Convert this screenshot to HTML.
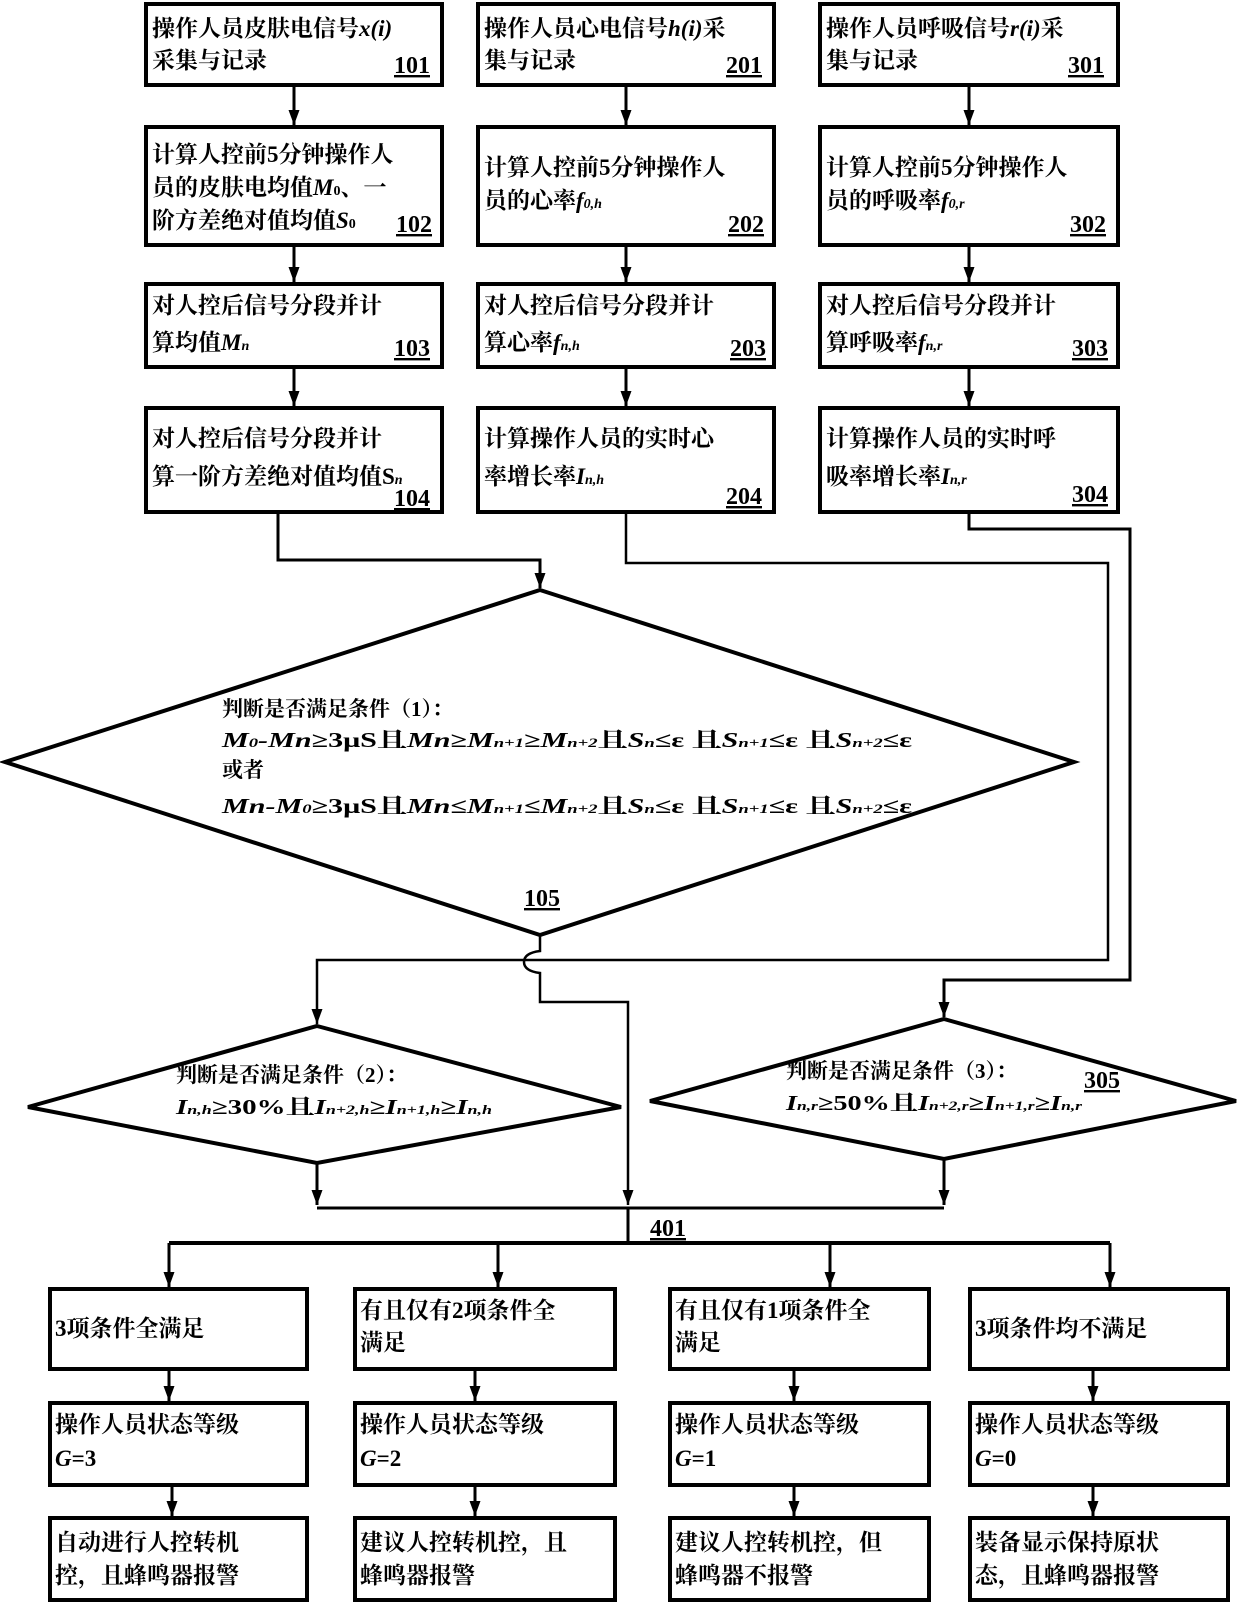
<!DOCTYPE html>
<html><head><meta charset="utf-8"><style>
html,body{margin:0;padding:0;background:#fff;}
svg{display:block;}
text{font-family:"Liberation Serif","Noto Serif CJK SC",serif;font-weight:700;fill:#000;}
.t{font-size:23px;}
.n{font-size:24px;text-decoration:underline;font-family:"Liberation Serif",serif;}
.d{font-size:21px;}
</style></head><body>
<svg width="1240" height="1605" viewBox="0 0 1240 1605" xmlns="http://www.w3.org/2000/svg">
<defs>
<marker id="a" markerWidth="15" markerHeight="11" refX="15" refY="5.5" orient="auto" markerUnits="userSpaceOnUse" viewBox="0 0 15 11">
<path d="M0,0 L15,5.5 L0,11 Z" fill="#000"/></marker>
</defs>
<g fill="none" stroke="#000" stroke-width="4">
<rect x="146" y="4" width="296" height="81"/>
<rect x="146" y="127" width="296" height="118"/>
<rect x="146" y="284" width="296" height="83"/>
<rect x="146" y="408" width="296" height="104"/>
<rect x="478" y="4" width="296" height="81"/>
<rect x="478" y="127" width="296" height="118"/>
<rect x="478" y="284" width="296" height="83"/>
<rect x="478" y="408" width="296" height="104"/>
<rect x="820" y="4" width="298" height="81"/>
<rect x="820" y="127" width="298" height="118"/>
<rect x="820" y="284" width="298" height="83"/>
<rect x="820" y="408" width="298" height="104"/>
<polygon points="540,590 1074,762 540,935 5,762"/>
<polygon points="317,1026 621,1107 317,1163 28,1107"/>
<polygon points="944,1019 1236,1101 944,1159 650,1101"/>
<rect x="50" y="1289" width="257" height="80"/>
<rect x="355" y="1289" width="260" height="80"/>
<rect x="670" y="1289" width="259" height="80"/>
<rect x="970" y="1289" width="258" height="80"/>
<rect x="50" y="1403" width="257" height="82"/>
<rect x="355" y="1403" width="260" height="82"/>
<rect x="670" y="1403" width="259" height="82"/>
<rect x="970" y="1403" width="258" height="82"/>
<rect x="50" y="1518" width="257" height="82"/>
<rect x="355" y="1518" width="260" height="82"/>
<rect x="670" y="1518" width="259" height="82"/>
<rect x="970" y="1518" width="258" height="82"/>
</g>
<g fill="none" stroke="#000" stroke-width="3">
<line x1="294" y1="85" x2="294" y2="125" marker-end="url(#a)"/>
<line x1="294" y1="245" x2="294" y2="282" marker-end="url(#a)"/>
<line x1="294" y1="367" x2="294" y2="406" marker-end="url(#a)"/>
<line x1="626" y1="85" x2="626" y2="125" marker-end="url(#a)"/>
<line x1="626" y1="245" x2="626" y2="282" marker-end="url(#a)"/>
<line x1="626" y1="367" x2="626" y2="406" marker-end="url(#a)"/>
<line x1="969" y1="85" x2="969" y2="125" marker-end="url(#a)"/>
<line x1="969" y1="245" x2="969" y2="282" marker-end="url(#a)"/>
<line x1="969" y1="367" x2="969" y2="406" marker-end="url(#a)"/>
<polyline points="278,512 278,560 540,560 540,588" marker-end="url(#a)"/>
<polyline points="626,512 626,563 1108,563 1108,960 317,960 317,1024" marker-end="url(#a)" stroke-width="2.5"/>
<polyline points="969,512 969,529 1130,529 1130,980 944,980 944,1017" marker-end="url(#a)"/>
<path d="M540,935 L540,951 Q524,953 524,962 Q524,971 540,973 L540,1002 L628,1002 L628,1205" marker-end="url(#a)" stroke-width="2.5"/>
<line x1="317" y1="1163" x2="317" y2="1205" marker-end="url(#a)"/>
<line x1="944" y1="1159" x2="944" y2="1205" marker-end="url(#a)"/>
<line x1="317" y1="1208" x2="944" y2="1208"/>
<line x1="628" y1="1208" x2="628" y2="1243"/>
<line x1="169" y1="1243" x2="1110" y2="1243" stroke-width="4"/>
<line x1="169" y1="1243" x2="169" y2="1287" marker-end="url(#a)"/>
<line x1="498" y1="1243" x2="498" y2="1287" marker-end="url(#a)"/>
<line x1="830" y1="1243" x2="830" y2="1287" marker-end="url(#a)"/>
<line x1="1110" y1="1243" x2="1110" y2="1287" marker-end="url(#a)"/>
<line x1="169" y1="1369" x2="169" y2="1401" marker-end="url(#a)"/>
<line x1="475" y1="1369" x2="475" y2="1401" marker-end="url(#a)"/>
<line x1="794" y1="1369" x2="794" y2="1401" marker-end="url(#a)"/>
<line x1="1093" y1="1369" x2="1093" y2="1401" marker-end="url(#a)"/>
<line x1="172" y1="1485" x2="172" y2="1516" marker-end="url(#a)"/>
<line x1="475" y1="1485" x2="475" y2="1516" marker-end="url(#a)"/>
<line x1="794" y1="1485" x2="794" y2="1516" marker-end="url(#a)"/>
<line x1="1093" y1="1485" x2="1093" y2="1516" marker-end="url(#a)"/>
</g>
<text class="t" x="152" y="36">操作人员皮肤电信号<tspan font-style="italic">x(i)</tspan></text>
<text class="t" x="152" y="68">采集与记录</text>
<text class="n" x="430" y="73" text-anchor="end">101</text>
<text class="t" x="152" y="162">计算人控前5分钟操作人</text>
<text class="t" x="152" y="195">员的皮肤电均值<tspan font-style="italic">M</tspan><tspan font-size="14">0</tspan>、一</text>
<text class="t" x="152" y="228">阶方差绝对值均值<tspan font-style="italic">S</tspan><tspan font-size="14">0</tspan></text>
<text class="n" x="432" y="232" text-anchor="end">102</text>
<text class="t" x="152" y="313">对人控后信号分段并计</text>
<text class="t" x="152" y="350">算均值<tspan font-style="italic">M<tspan font-size="14">n</tspan></tspan></text>
<text class="n" x="430" y="356" text-anchor="end">103</text>
<text class="t" x="152" y="446">对人控后信号分段并计</text>
<text class="t" x="152" y="484">算一阶方差绝对值均值S<tspan font-size="14" font-style="italic">n</tspan></text>
<text class="n" x="430" y="506" text-anchor="end">104</text>
<text class="t" x="484" y="36">操作人员心电信号<tspan font-style="italic">h(i)</tspan>采</text>
<text class="t" x="484" y="68">集与记录</text>
<text class="n" x="762" y="73" text-anchor="end">201</text>
<text class="t" x="484" y="175">计算人控前5分钟操作人</text>
<text class="t" x="484" y="208">员的心率<tspan font-style="italic">f<tspan font-size="14">0,h</tspan></tspan></text>
<text class="n" x="764" y="232" text-anchor="end">202</text>
<text class="t" x="484" y="313">对人控后信号分段并计</text>
<text class="t" x="484" y="350">算心率<tspan font-style="italic">f<tspan font-size="14">n,h</tspan></tspan></text>
<text class="n" x="766" y="356" text-anchor="end">203</text>
<text class="t" x="484" y="446">计算操作人员的实时心</text>
<text class="t" x="484" y="484">率增长率<tspan font-style="italic">I<tspan font-size="14">n,h</tspan></tspan></text>
<text class="n" x="762" y="504" text-anchor="end">204</text>
<text class="t" x="826" y="36">操作人员呼吸信号<tspan font-style="italic">r(i)</tspan>采</text>
<text class="t" x="826" y="68">集与记录</text>
<text class="n" x="1104" y="73" text-anchor="end">301</text>
<text class="t" x="826" y="175">计算人控前5分钟操作人</text>
<text class="t" x="826" y="208">员的呼吸率<tspan font-style="italic">f<tspan font-size="14">0,r</tspan></tspan></text>
<text class="n" x="1106" y="232" text-anchor="end">302</text>
<text class="t" x="826" y="313">对人控后信号分段并计</text>
<text class="t" x="826" y="350">算呼吸率<tspan font-style="italic">f<tspan font-size="14">n,r</tspan></tspan></text>
<text class="n" x="1108" y="356" text-anchor="end">303</text>
<text class="t" x="826" y="446">计算操作人员的实时呼</text>
<text class="t" x="826" y="484">吸率增长率<tspan font-style="italic">I<tspan font-size="14">n,r</tspan></tspan></text>
<text class="n" x="1108" y="502" text-anchor="end">304</text>
<text class="d" x="222" y="716">判断是否满足条件（1）：</text>
<text class="d" x="222" y="747" textLength="690" lengthAdjust="spacingAndGlyphs"><tspan font-style="italic">M<tspan font-size="13">0</tspan>-Mn</tspan>≥3μS且<tspan font-style="italic">Mn</tspan>≥<tspan font-style="italic">M<tspan font-size="13">n+1</tspan></tspan>≥<tspan font-style="italic">M<tspan font-size="13">n+2</tspan></tspan>且<tspan font-style="italic">S<tspan font-size="13">n</tspan></tspan>≤ε 且<tspan font-style="italic">S<tspan font-size="13">n+1</tspan></tspan>≤ε 且<tspan font-style="italic">S<tspan font-size="13">n+2</tspan></tspan>≤ε</text>
<text class="d" x="222" y="777">或者</text>
<text class="d" x="222" y="813" textLength="690" lengthAdjust="spacingAndGlyphs"><tspan font-style="italic">Mn-M<tspan font-size="13">0</tspan></tspan>≥3μS且<tspan font-style="italic">Mn</tspan>≤<tspan font-style="italic">M<tspan font-size="13">n+1</tspan></tspan>≤<tspan font-style="italic">M<tspan font-size="13">n+2</tspan></tspan>且<tspan font-style="italic">S<tspan font-size="13">n</tspan></tspan>≤ε 且<tspan font-style="italic">S<tspan font-size="13">n+1</tspan></tspan>≤ε 且<tspan font-style="italic">S<tspan font-size="13">n+2</tspan></tspan>≤ε</text>
<text class="n" x="542" y="906" text-anchor="middle">105</text>
<text class="d" x="176" y="1082">判断是否满足条件（2）：</text>
<text class="d" x="176" y="1114" textLength="316" lengthAdjust="spacingAndGlyphs"><tspan font-style="italic">I<tspan font-size="13">n,h</tspan></tspan>≥30%且<tspan font-style="italic">I<tspan font-size="13">n+2,h</tspan></tspan>≥<tspan font-style="italic">I<tspan font-size="13">n+1,h</tspan></tspan>≥<tspan font-style="italic">I<tspan font-size="13">n,h</tspan></tspan></text>
<text class="d" x="786" y="1078">判断是否满足条件（3）：</text>
<text class="d" x="786" y="1110" textLength="296" lengthAdjust="spacingAndGlyphs"><tspan font-style="italic">I<tspan font-size="13">n,r</tspan></tspan>≥50%且<tspan font-style="italic">I<tspan font-size="13">n+2,r</tspan></tspan>≥<tspan font-style="italic">I<tspan font-size="13">n+1,r</tspan></tspan>≥<tspan font-style="italic">I<tspan font-size="13">n,r</tspan></tspan></text>
<text class="n" x="1102" y="1088" text-anchor="middle">305</text>
<text class="n" x="668" y="1236" text-anchor="middle">401</text>
<text class="t" x="55" y="1336">3项条件全满足</text>
<text class="t" x="360" y="1318">有且仅有2项条件全</text>
<text class="t" x="360" y="1350">满足</text>
<text class="t" x="675" y="1318">有且仅有1项条件全</text>
<text class="t" x="675" y="1350">满足</text>
<text class="t" x="975" y="1336">3项条件均不满足</text>
<text class="t" x="55" y="1432">操作人员状态等级</text>
<text class="t" x="55" y="1466"><tspan font-style="italic">G</tspan>=3</text>
<text class="t" x="360" y="1432">操作人员状态等级</text>
<text class="t" x="360" y="1466"><tspan font-style="italic">G</tspan>=2</text>
<text class="t" x="675" y="1432">操作人员状态等级</text>
<text class="t" x="675" y="1466"><tspan font-style="italic">G</tspan>=1</text>
<text class="t" x="975" y="1432">操作人员状态等级</text>
<text class="t" x="975" y="1466"><tspan font-style="italic">G</tspan>=0</text>
<text class="t" x="55" y="1550">自动进行人控转机</text>
<text class="t" x="55" y="1583">控，且蜂鸣器报警</text>
<text class="t" x="360" y="1550">建议人控转机控，且</text>
<text class="t" x="360" y="1583">蜂鸣器报警</text>
<text class="t" x="675" y="1550">建议人控转机控，但</text>
<text class="t" x="675" y="1583">蜂鸣器不报警</text>
<text class="t" x="975" y="1550">装备显示保持原状</text>
<text class="t" x="975" y="1583">态，且蜂鸣器报警</text>
</svg>
</body></html>
